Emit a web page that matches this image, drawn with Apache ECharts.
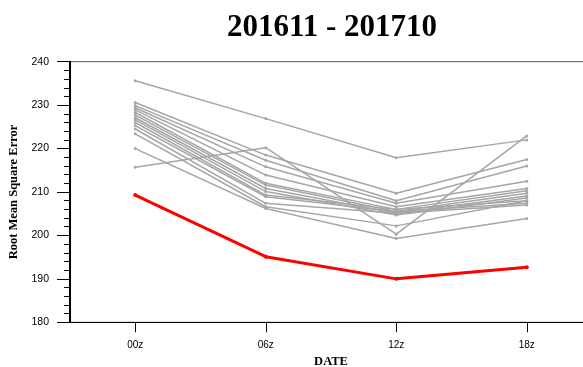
<!DOCTYPE html>
<html>
<head>
<meta charset="utf-8">
<script src="https://cdn.jsdelivr.net/npm/echarts@6/dist/echarts.min.js"></script>
<style>
  html, body { margin: 0; padding: 0; background: #fff; }
  #chart { width: 583px; height: 367px; }
</style>
</head>
<body>
<div id="chart"></div>
<script>
// Forecast cycles on the x axis
const cycles = ['00z', '06z', '12z', '18z'];

// RMSE of the individual members (grey lines)
const member01 = [235.6, 226.9, 217.9, 222.0];
const member02 = [215.7, 220.2, 200.3, 222.9];
const member03 = [230.6, 218.5, 209.7, 217.5];
const member04 = [229.9, 217.3, 208.0, 216.0];
const member05 = [229.4, 215.8, 207.4, 212.5];
const member06 = [228.9, 213.9, 206.6, 210.8];
const member07 = [228.3, 212.0, 206.0, 210.3];
const member08 = [227.7, 211.6, 205.5, 209.7];
const member09 = [227.1, 210.8, 205.1, 209.1];
const member10 = [226.6, 210.1, 204.7, 208.6];
const member11 = [226.0, 209.3, 206.0, 208.0];
const member12 = [225.3, 208.9, 205.5, 207.4];
const member13 = [224.5, 207.4, 205.1, 207.0];
const member14 = [223.4, 206.6, 202.2, 208.0];
const member15 = [220.0, 206.2, 199.3, 203.9];

// RMSE of the ensemble mean (red line)
const ensembleMean = [209.3, 195.1, 190.0, 192.7];

// Y axis range and labelled ticks
const yMin = 180, yMax = 240, yStep = 10;

const members = [member01, member02, member03, member04, member05,
  member06, member07, member08, member09, member10, member11,
  member12, member13, member14, member15];

const series = members.map((vals, i) => ({
  name: 'm' + (i + 1),
  type: 'line',
  data: vals,
  symbol: 'circle',
  symbolSize: 3,
  lineStyle: { color: '#a6a6a6', width: 1.5 },
  itemStyle: { color: '#a6a6a6' },
  silent: true,
  z: 2
}));

series.push({
  name: 'mean',
  type: 'line',
  data: ensembleMean,
  symbol: 'circle',
  symbolSize: 4,
  lineStyle: { color: '#ff0000', width: 3 },
  itemStyle: { color: '#ff0000' },
  silent: true,
  z: 3
});

const chart = echarts.init(document.getElementById('chart'), null, { renderer: 'canvas' });
chart.setOption({
  backgroundColor: '#ffffff',
  animation: false,
  title: {
    text: '201611 - 201710',
    left: 327,
    top: 7,
    textAlign: 'center',
    textStyle: {
      fontFamily: 'Liberation Serif',
      fontWeight: 'bold',
      fontSize: 31,
      color: '#000'
    }
  },
  grid: {
    left: 70,
    top: 61.7,
    width: 522,
    bottom: 44.7,
    outerBoundsMode: 'none',
    containLabel: false,
    show: true,
    borderColor: '#555',
    borderWidth: 1,
    backgroundColor: 'transparent'
  },
  xAxis: {
    type: 'category',
    data: cycles,
    boundaryGap: true,
    name: 'DATE',
    nameLocation: 'middle',
    nameGap: 33,
    nameTextStyle: {
      fontFamily: 'Liberation Serif',
      fontWeight: 'bold',
      fontSize: 12.5,
      color: '#000'
    },
    axisLine: { show: true, lineStyle: { color: '#000', width: 1 } },
    axisTick: { show: true, alignWithLabel: true, inside: false, length: 10, lineStyle: { color: '#000', width: 1 } },
    axisLabel: {
      margin: 18,
      fontFamily: 'Liberation Sans',
      fontSize: 10,
      color: '#000'
    },
    splitLine: { show: false }
  },
  yAxis: {
    type: 'value',
    min: yMin,
    max: yMax,
    interval: yStep,
    name: 'Root Mean Square Error',
    nameLocation: 'middle',
    nameGap: 41,
    nameTextStyle: {
      fontFamily: 'Liberation Serif',
      fontWeight: 'bold',
      fontSize: 12.5,
      color: '#000'
    },
    axisLine: { show: true, lineStyle: { color: '#000', width: 2 } },
    axisTick: { show: true, inside: false, length: 13, lineStyle: { color: '#000', width: 1 } },
    minorTick: { show: true, splitNumber: 5, length: 6, lineStyle: { color: '#000', width: 1 } },
    axisLabel: {
      margin: 21,
      fontFamily: 'Liberation Sans',
      fontSize: 10.5,
      color: '#000'
    },
    splitLine: { show: false }
  },
  series: series
});
</script>
</body>
</html>
